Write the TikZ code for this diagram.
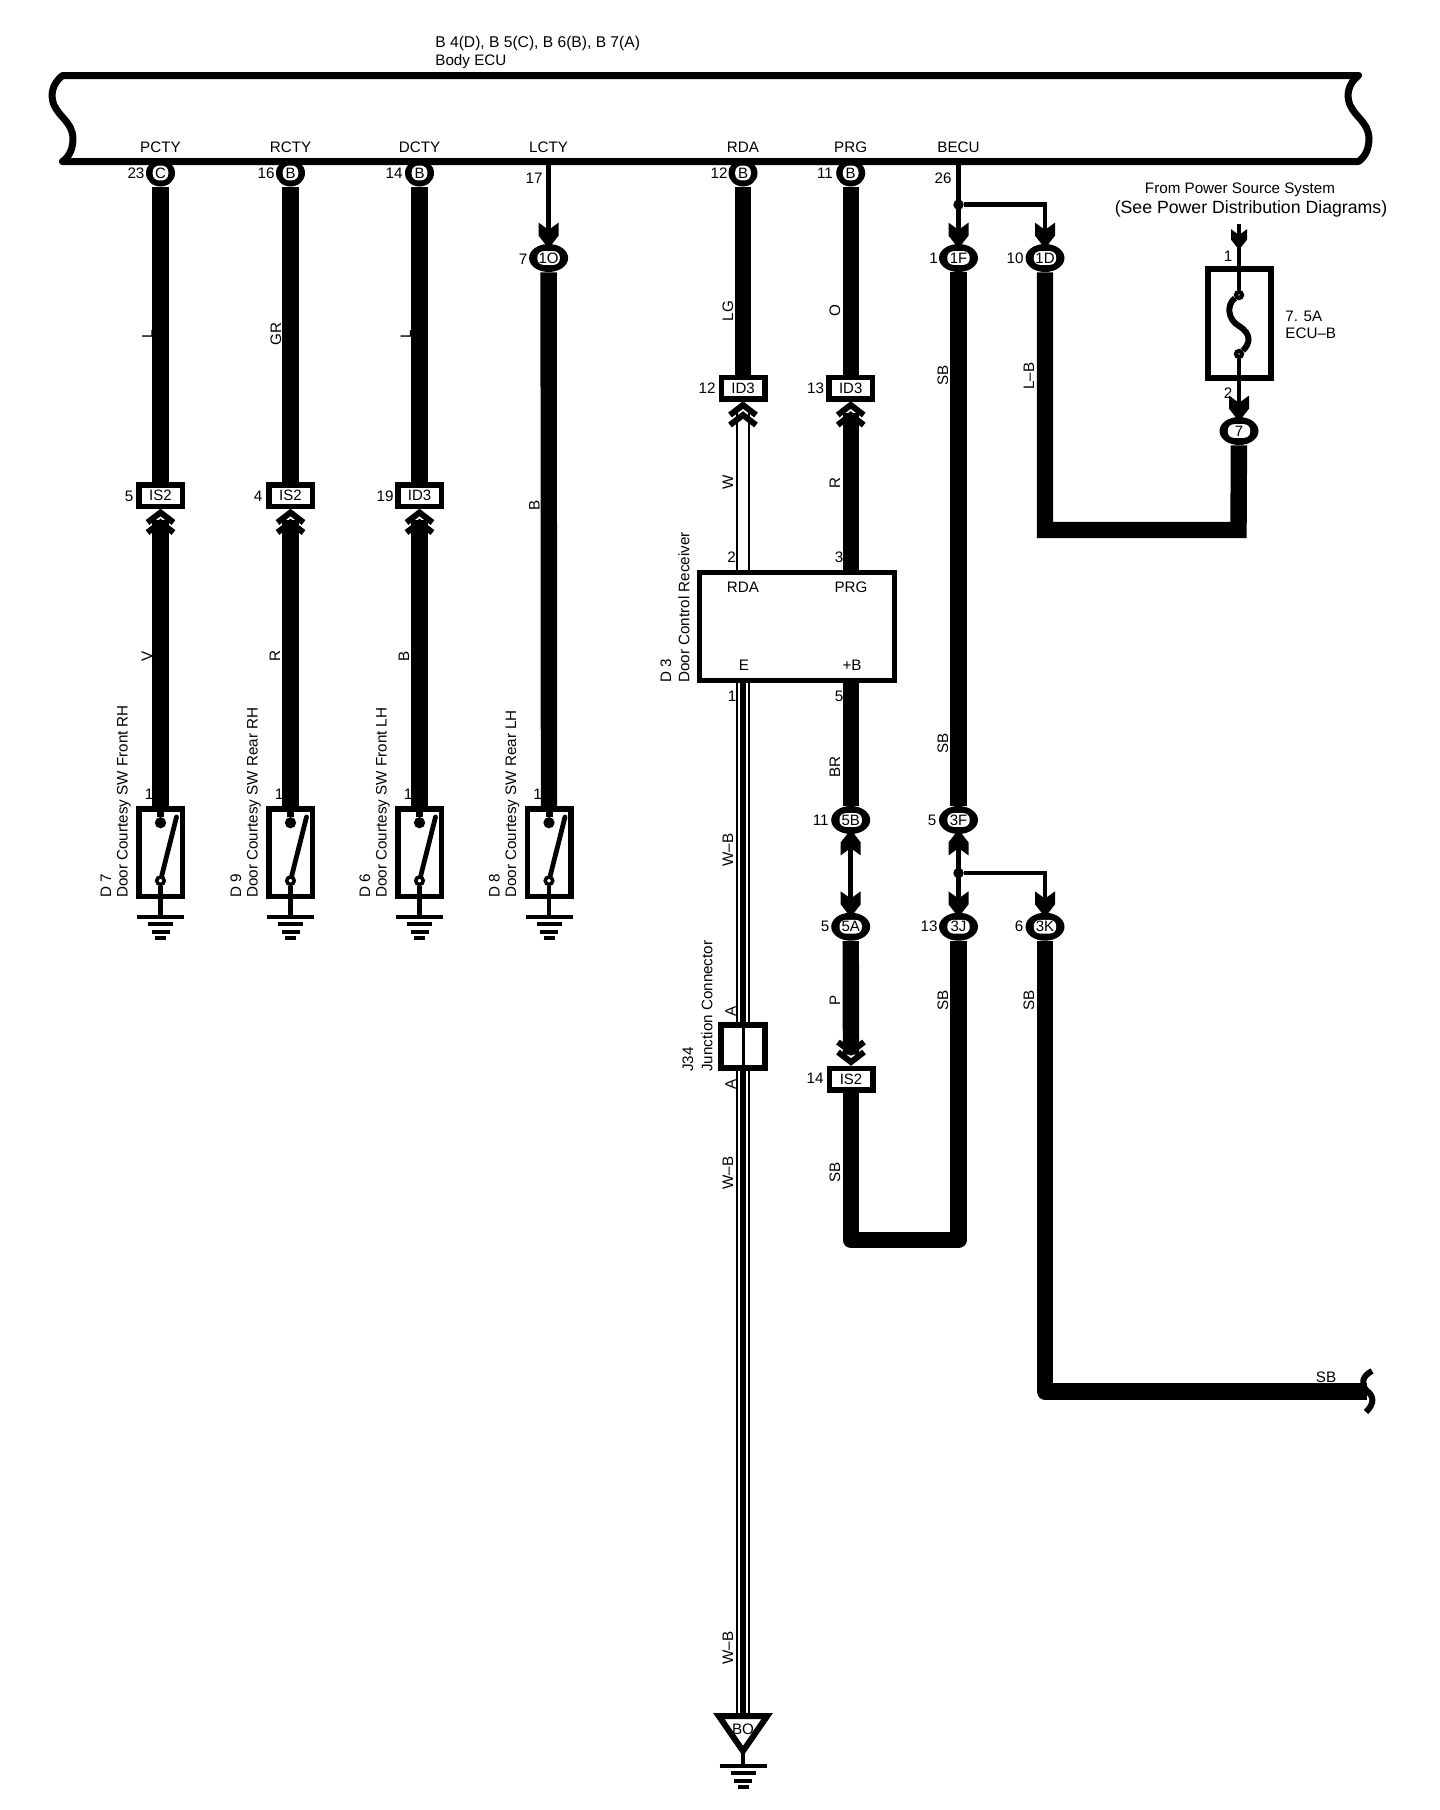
\documentclass[tikz,border=0pt]{standalone}
\usepackage{fontspec}
\setmainfont{Liberation Sans}
\usetikzlibrary{shapes.geometric,backgrounds,calc}
\newcounter{tn}
\newcommand{\tx}[4][]{\stepcounter{tn}\node[txt,#1] (t\arabic{tn}) at (#2,#3) {#4};}
\tikzset{
  txt/.style={inner sep=0pt,font=\fontsize{7.6}{9}\selectfont},
  rot/.style={rotate=90},
  side/.style={rotate=90,anchor=west},
  heavy/.style={line width=8.2pt,line cap=butt},
  thinw/.style={line width=2.4pt,line cap=butt},
  whw/.style={line width=0.65pt,double=white,double distance=5.4pt,line cap=butt},
  stripe/.style={line width=3pt,line cap=butt},
  ring/.style={ellipse,fill=black,inner sep=0pt,minimum width=19.5pt,minimum height=14pt,font=\fontsize{7.5}{9}\selectfont,
    path picture={\fill[white,rounded corners=3pt] ([shift={(-5.6pt,-3.4pt)}]path picture bounding box.center) rectangle ([shift={(5.6pt,3.4pt)}]path picture bounding box.center);}},
  pinring/.style={ellipse,fill=black,inner sep=0pt,minimum width=14.5pt,minimum height=13.5pt,font=\fontsize{7.5}{9}\selectfont,
    path picture={\fill[white,rounded corners=3.2pt] ([shift={(-3.9pt,-3.7pt)}]path picture bounding box.center) rectangle ([shift={(3.9pt,3.7pt)}]path picture bounding box.center);}},
  conbox/.style={rectangle,draw,line width=2.75pt,fill=white,inner sep=0pt,minimum width=21.75pt,minimum height=10.75pt,font=\fontsize{7.5}{9}\selectfont},
  swbox/.style={rectangle,draw,line width=2.75pt,fill=white,inner sep=0pt,minimum width=21.75pt,minimum height=43.75pt},
  ctop/.style={circle,draw,fill=black,line width=1.75pt,inner sep=0pt,minimum size=3.75pt},
  cbot/.style={circle,draw,fill=white,line width=1.75pt,inner sep=0pt,minimum size=3.75pt},
  fcon/.style={circle,draw,fill=white,line width=2.1pt,inner sep=0pt,minimum size=3pt},
  pics/dblchev/.style={code={
    \draw[line width=3pt,line cap=butt,miter limit=10] (-13,13.5) -- (0,3.5) -- (13,13.5);
    \draw[line width=3pt,line cap=butt,miter limit=10] (-13,23.5) -- (0,13.5) -- (13,23.5);
  }},
  pics/fork/.style={code={
    \fill (-10,-21) -- (-2.5,-15.5) -- (2.5,-15.5) -- (10,-21) -- (10,-8) -- (3,1) -- (-3,1) -- (-10,-8) -- cycle;
  }},
  pics/earth/.style={code={
    \draw[line width=2pt,line cap=butt] (-23.5,0) -- (23.5,0);
    \draw[line width=2pt,line cap=butt] (-12.5,7) -- (12.5,7);
    \draw[line width=2pt,line cap=butt] (-9,14.5) -- (9,14.5);
    \draw[line width=2pt,line cap=butt] (-5.5,21) -- (5.5,21);
  }}
}
\begin{document}
\begin{tikzpicture}[x=0.5pt,y=-0.5pt]
\useasboundingbox (0,0) rectangle (1440,1810);
% ---------- body ECU
\tx[anchor=west,font=\fontsize{7.8}{10}\selectfont]{435}{43}{B 4(D), B 5(C), B 6(B), B 7(A)}
\tx[anchor=west]{435}{62}{Body ECU}
\draw[line width=3.5pt,line join=round,line cap=round]
  (62.5,75.5) -- (1358.5,75.5)
  .. controls (1348,84) and (1346,95) .. (1350,105)
  .. controls (1356,118) and (1368,122) .. (1369,138)
  .. controls (1369,148) and (1366,156) .. (1358.5,161.5)
  -- (62.5,161.5)
  .. controls (70,156) and (73,148) .. (73,138)
  .. controls (72,122) and (60,118) .. (54,105)
  .. controls (50,95) and (52,84) .. (62.5,75.5) -- cycle;
\foreach \lbl/\x in {PCTY/160.5,RCTY/290.5,DCTY/419.5,LCTY/548.6,RDA/743,PRG/850.7,BECU/958.5}
  {\tx{\x}{147}{\lbl}}
% ---------- connectors: pins on the ECU
\node[pinring] (pC) at (160.5,173) {C};
\node[pinring] (pR) at (290.5,173) {B};
\node[pinring] (pD) at (419.5,173) {B};
\node[pinring] (pA) at (743,173) {B};
\node[pinring] (pP) at (850.7,173) {B};
\coordinate (lcty) at (548.6,161.5);
\coordinate (becu) at (958.5,161.5);
\tx{136}{173}{23}\tx{266}{173}{16}\tx{394}{173}{14}\tx{534}{178}{17}
\tx{719}{173.6}{12}\tx{825}{173.6}{11}\tx{943}{178}{26}
% ---------- inline connectors
\node[ring] (r1O) at (548.6,258) {1O};
\node[ring] (r1F) at (958.5,258) {1F};
\node[ring] (r1D) at (1045,258) {1D};
\node[ring] (r7) at (1239,431) {7};
\node[ring] (r5B) at (850.7,820) {5B};
\node[ring] (r3F) at (958.5,820) {3F};
\node[ring] (r5A) at (850.7,926.7) {5A};
\node[ring] (r3J) at (958.5,926.7) {3J};
\node[ring] (r3K) at (1045,926.7) {3K};
\tx{523}{259}{7}\tx{933.5}{258.6}{1}\tx{1015}{258.6}{10}
\tx{820.7}{820}{11}\tx{932}{820}{5}\tx{825}{926.7}{5}\tx{929}{926.7}{13}\tx{1019}{926.7}{6}
\node[conbox] (b1) at (160.5,495.5) {IS2};
\node[conbox] (b2) at (290.5,495.5) {IS2};
\node[conbox] (b3) at (419.5,495.5) {ID3};
\node[conbox] (bA) at (743,388) {ID3};
\node[conbox] (bP) at (850.7,388) {ID3};
\node[conbox] (bS) at (851,1079) {IS2};
\tx{129}{496}{5}\tx{258}{496}{4}\tx{385}{496}{19}\tx{707}{388.6}{12}\tx{815.5}{388.6}{13}\tx{815}{1078}{14}
% ---------- door switches
\foreach \s/\x/\code/\nm in {s1/160.5/D 7/Door Courtesy SW Front RH,s2/290.5/D 9/Door Courtesy SW Rear RH,s3/419.5/D 6/Door Courtesy SW Front LH,s4/549/D 8/Door Courtesy SW Rear LH}{
  \node[swbox] (\s) at (\x,852.5) {};
  \node[ctop] (\s t) at (\x,822.7) {};
  \node[cbot] (\s b) at (\x,880.7) {};
  \coordinate (\s e) at (\x,917);
  \coordinate (\s h) at ($(\x,817)+(16,0)$);
  \draw[line width=3.5pt,line cap=butt] (\s.north) -- (\s t);
  \draw[line width=2.4pt,line cap=round] (\s b) -- (\s h);
  \draw[line width=2.2pt,line cap=butt] (\s b.south) -- (\s e);
  \pic at (\s e) {earth};
  \tx[side]{\x-54.5}{898}{\code}
  \tx[side]{\x-36.5}{898}{\nm}
  \tx{\x-11.5}{794}{1}
}
% ---------- door control receiver
\node[rectangle,draw,line width=2.5pt,fill=white,minimum width=97.5pt,minimum height=54pt,inner sep=0pt] (d3) at (797,626.5) {};
\tx{743}{587}{RDA}\tx{851}{587}{PRG}\tx{744}{665}{E}\tx{852}{665}{+B}
\tx[side]{666}{683}{D 3}
\tx[side]{684}{683}{Door Control Receiver}
\tx{731.7}{557}{2}\tx{839}{557}{3}\tx{732}{696}{1}\tx{839}{696}{5}
% ---------- junction connector
\node[rectangle,draw,line width=3pt,fill=white,minimum width=22pt,minimum height=21.5pt,inner sep=0pt] (j34) at (743,1046.5) {};
\draw[line width=1.5pt] (j34.north) -- (j34.south);
\tx[side]{688}{1072}{J34}
\tx[side]{707}{1072}{Junction Connector}
\tx[rot]{730.7}{1011}{A}\tx[rot]{730.7}{1084}{A}
% ---------- ground point BO
\coordinate (bo) at (743,1716);
\coordinate (boa) at (743,1751);
\coordinate (boe) at (743,1766);
\draw[line width=3pt,line join=miter,fill=white] (718.8,1716) -- (767.2,1716) -- (boa) -- cycle;
\tx{743}{1729}{BO}
\draw[line width=2.2pt,line cap=butt] (boa) -- (boe);
\pic at (boe) {earth};
% ---------- fuse
\node[rectangle,draw,line width=3pt,fill=white,minimum width=31.5pt,minimum height=54.5pt,inner sep=0pt] (fuse) at (1239.5,323.5) {};
\node[fcon] (f1) at (1239,295) {};
\node[fcon] (f2) at (1239,354) {};
\coordinate (ftop) at (1239,224);
\draw[line width=2pt] (ftop) -- (f1);
\draw[line width=2pt] (f2) -- (r7.north);
\draw[line width=3pt] (f1) .. controls (1226,305) and (1228,320) .. (1239,326) .. controls (1252,334) and (1250,344) .. (f2);
\pic[scale=0.8] at (1239,246) {fork};
\tx{1240}{190}{From Power Source System}
\tx[font=\fontsize{8.85}{10}\selectfont]{1251}{209}{(See Power Distribution Diagrams)}
\tx{1228}{256}{1}\tx{1228}{393}{2}
\tx[anchor=west]{1285}{316}{7. 5A}\tx[anchor=west]{1285}{333}{ECU–B}
% ---------- branch points
\node[circle,fill=black,inner sep=0pt,minimum size=5.2pt] (jt1) at (958.5,204.6) {};
\node[circle,fill=black,inner sep=0pt,minimum size=5.2pt] (jt2) at (958.5,873) {};
% ---------- arrow heads
\pic at (r1O.north) {fork};
\pic at (r1F.north) {fork};
\pic at (r1D.north) {fork};
\pic at (r7.north) {fork};
\pic at (r5A.north) {fork};
\pic at (r3J.north) {fork};
\pic at (r3K.north) {fork};
\pic[rotate=180] at (r5B.south) {fork};
\pic[rotate=180] at (r3F.south) {fork};
\foreach \b in {b1,b2,b3,bA,bP}{\pic at (\b.south) {dblchev};}
\pic[rotate=180] at (bS.north) {dblchev};
% ---------- wire colour labels
\foreach \t/\x/\y in {L/147.5/334,GR/276/334,L/406/334,V/147/656,R/275/656,B/404/656,B/534.5/505,LG/728/311,O/835/311,SB/943/375,L–B/1029/376,W/728/482.5,R/835/483,BR/835/767,SB/943/743,W–B/728/850,W–B/728/1173,W–B/728/1648,P/835/1000,SB/835/1172,SB/943/1000,SB/1029/1000}
  {\tx[rot]{\x}{\y}{\t}}
\tx{1326}{1377}{SB}
% ---------- wires
\coordinate (c1) at ([yshift=-5.5pt]b1.south);
\coordinate (c2) at ([yshift=-5.5pt]b2.south);
\coordinate (c3) at ([yshift=-5.5pt]b3.south);
\coordinate (cA) at ([yshift=-5pt]bA.south);
\coordinate (cP) at ([yshift=-5.5pt]bP.south);
\coordinate (cS) at ([yshift=5.5pt]bS.north);
\coordinate (cor1) at (1045,530);
\coordinate (cor2) at (1238.5,530);
\coordinate (cor3) at (851,1240);
\coordinate (cor4) at (958.5,1240);
\coordinate (cor5) at (1045,1391.5);
\coordinate (brk) at (1367,1391.5);
\coordinate (hj1) at (1045,204.6);
\coordinate (hj2) at (1045,873);
\draw[line width=3pt,line join=round] (1372,1371) .. controls (1362,1376) and (1361,1384) .. (1366,1390) .. controls (1374,1396) and (1375,1403) .. (1366,1412);
\begin{pgfonlayer}{background}
  \fill[white] (0,0) rectangle (1440,1810);
  \draw[heavy] (pC) -- (b1);
  \draw[heavy] (pR) -- (b2);
  \draw[heavy] (pD) -- (b3);
  \draw[heavy] (c1) -- (s1.north);
  \draw[heavy] (c2) -- (s2.north);
  \draw[heavy] (c3) -- (s3.north);
  \draw[thinw] (lcty) -- (r1O.north);
  \draw[heavy] (r1O) -- (s4.north);
  \draw[heavy,line width=7.8pt] (pA) -- (bA);
  \draw[heavy] (pP) -- (bP);
  \draw[whw] (cA) -- (bA |- d3.north);
  \draw[heavy] (cP) -- (bP |- d3.north);
  \draw[whw] (bA |- d3.south) -- (j34.north);
  \draw[stripe] (bA |- d3.south) -- (j34.north);
  \draw[whw] (j34.south) -- (bo);
  \draw[stripe] (j34.south) -- (bo);
  \draw[heavy] (bP |- d3.south) -- (r5B);
  \draw[thinw] (r5B) -- (r5A);
  \draw[heavy] (r5A) -- (cS);
  \draw[heavy,line join=round] (bS) -- (cor3) -- (cor4) -- (r3J);
  \draw[thinw] (becu) -- (r1F);
  \draw[thinw,line join=miter] (jt1) -- (hj1) -- (r1D);
  \draw[heavy] (r1F) -- (r3F);
  \draw[heavy,line join=miter] (r1D) -- (cor1) -- (cor2) -- (r7);
  \draw[thinw] (r3F) -- (r3J);
  \draw[thinw,line join=miter] (jt2) -- (hj2) -- (r3K);
  \draw[heavy,line join=round] (r3K) -- (cor5) -- (brk);
\end{pgfonlayer}
\end{tikzpicture}
\end{document}
